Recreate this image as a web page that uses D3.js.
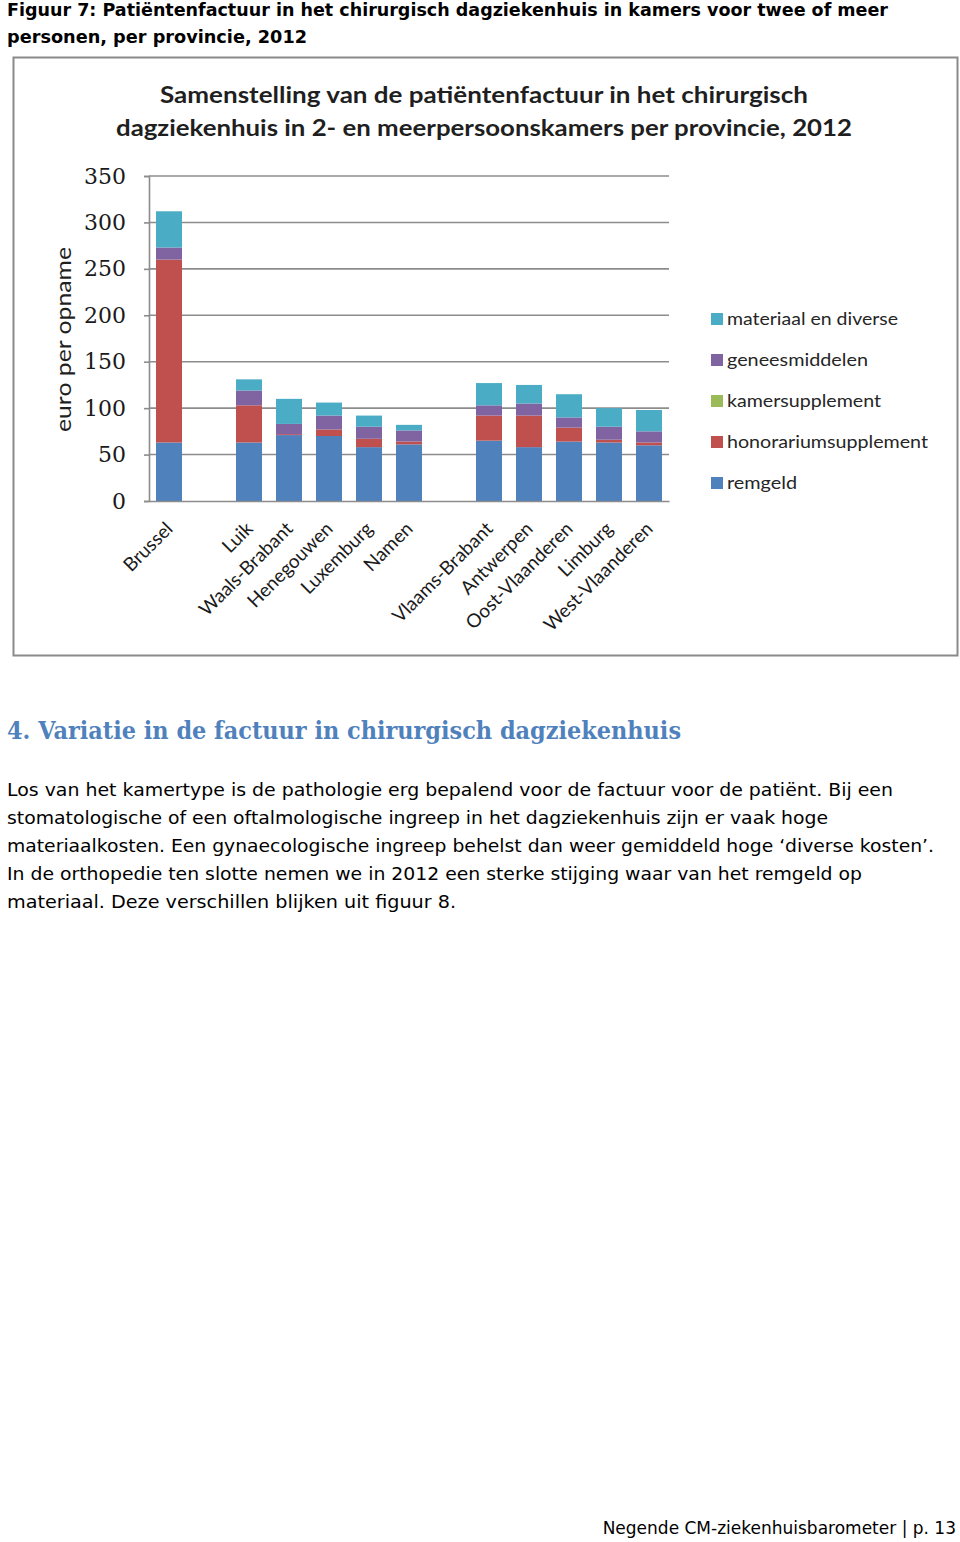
<!DOCTYPE html>
<html>
<head>
<meta charset="utf-8">
<script src="https://cdn.jsdelivr.net/npm/d3@7"></script>
<style>
html,body{margin:0;padding:0;background:#fff;}
svg{display:block;}
</style>
</head>
<body>
<script>
// ---- data ----
const categories = ["Brussel","","Luik","Waals-Brabant","Henegouwen","Luxemburg","Namen","","Vlaams-Brabant","Antwerpen","Oost-Vlaanderen","Limburg","West-Vlaanderen"];
const remgeld     = [63,0,63,71,70,58,61,0,65,58,64,63,60];
const honorarium  = [197,0,40,1,7,9,3,0,27,34,15,3,3];
const kamersupp   = [0,0,0,0,0,0,0,0,0,0,0,0,0];
const geneesmid   = [13,0,16,11,15,13,12,0,11,13,11,14,12];
const materiaal   = [39,0,12,27,14,12,6,0,24,20,25,20,23];
const seriesKeys  = ["remgeld","honorariumsupplement","kamersupplement","geneesmiddelen","materiaal en diverse"];
const seriesVals  = [remgeld, honorarium, kamersupp, geneesmid, materiaal];
const seriesColors= ["#4F81BD","#C0504D","#9BBB59","#8064A2","#4BACC6"];
const yTicks      = [0,50,100,150,200,250,300,350];
const legendOrder = ["materiaal en diverse","geneesmiddelen","kamersupplement","honorariumsupplement","remgeld"];

const captionLines = ["Figuur 7: Patiëntenfactuur in het chirurgisch dagziekenhuis in kamers voor twee of meer","personen, per provincie, 2012"];
const chartTitle = ["Samenstelling van de patiëntenfactuur in het chirurgisch","dagziekenhuis in 2- en meerpersoonskamers per provincie, 2012"];
const yLabel = "euro per opname";
const heading = "4.  Variatie in de factuur in chirurgisch dagziekenhuis";
const paragraph = [
 "Los van het kamertype is de pathologie erg bepalend voor de factuur voor de patiënt. Bij een",
 "stomatologische of een oftalmologische ingreep in het dagziekenhuis zijn er vaak hoge",
 "materiaalkosten. Een gynaecologische ingreep behelst dan weer gemiddeld hoge ‘diverse kosten’.",
 "In de orthopedie ten slotte nemen we in 2012 een sterke stijging waar van het remgeld op",
 "materiaal. Deze verschillen blijken uit figuur 8."
];
const footer = "Negende CM-ziekenhuisbarometer | p. 13";

// ---- drawing ----
const W = 960, H = 1542;
const svg = d3.select("body").append("svg").attr("width", W).attr("height", H);

function fitText(sel, width){
  sel.each(function(){
    const w = this.getComputedTextLength();
    if (w > 0) d3.select(this).attr("textLength", width).attr("lengthAdjust","spacingAndGlyphs");
  });
}

// caption
const capW = [881, 300];
captionLines.forEach((t,i)=>{
  svg.append("text").attr("x",7).attr("y",16+i*27)
    .attr("font-family","DejaVu Sans").attr("font-weight","bold").attr("font-size",18)
    .attr("fill","#000").text(t).call(fitText, capW[i]);
});

// chart frame
svg.append("rect").attr("x",13.5).attr("y",57.5).attr("width",944).attr("height",598)
  .attr("fill","#fff").attr("stroke","#8a8a8a").attr("stroke-width",2);

// chart title
const titleW = [648, 736];
chartTitle.forEach((t,i)=>{
  svg.append("text").attr("x",484).attr("y",103+i*33).attr("text-anchor","middle")
    .attr("font-family","Lato").attr("font-weight","bold").attr("font-size",23)
    .attr("fill","#1f1f1f").text(t).call(fitText, titleW[i]);
});

const plot = {left:149, right:669, top:176, bottom:501};
const x = d3.scaleBand().domain(d3.range(categories.length)).range([plot.left, plot.right])
  .paddingInner(0.35).paddingOuter(0.175);
const y = d3.scaleLinear().domain([0,350]).range([plot.bottom, plot.top]);

// gridlines
svg.append("g").selectAll("line").data(yTicks.filter(d=>d>0)).join("line")
  .attr("x1",plot.left).attr("x2",plot.right)
  .attr("y1",d=>y(d)).attr("y2",d=>y(d))
  .attr("stroke","#8c8c8c").attr("stroke-width",1.6);

// y axis
const yAxis = d3.axisLeft(y).tickValues(yTicks).tickSize(5).tickPadding(18).tickFormat(d3.format("d"));
const ya = svg.append("g").attr("transform",`translate(${plot.left},0)`).call(yAxis);
ya.select(".domain").attr("stroke","#8c8c8c").attr("stroke-width",1.6);
ya.selectAll(".tick line").attr("stroke","#8c8c8c").attr("stroke-width",1.6);
ya.selectAll(".tick text").attr("font-family","DejaVu Serif").attr("font-size",22).attr("fill","#1a1a1a");

// stacked bars
const rows = categories.map((c,i)=>{
  const r = {idx:i};
  seriesKeys.forEach((k,j)=> r[k] = seriesVals[j][i]);
  return r;
});
const stack = d3.stack().keys(seriesKeys)(rows);
stack.forEach((layer,j)=>{
  svg.append("g").attr("fill",seriesColors[j])
    .selectAll("rect").data(layer.filter(d=>categories[d.data.idx]!=="" && d[1]-d[0]>0)).join("rect")
    .attr("x",d=>x(d.data.idx)).attr("width",x.bandwidth())
    .attr("y",d=>y(d[1])).attr("height",d=>y(d[0])-y(d[1]));
});

// x axis
const xAxis = d3.axisBottom(x).tickSize(0).tickFormat(i=>categories[i]);
const xa = svg.append("g").attr("transform",`translate(0,${plot.bottom})`).call(xAxis);
xa.select(".domain").attr("stroke","#8c8c8c").attr("stroke-width",1.6);
xa.selectAll(".tick text")
  .attr("font-family","Lato").attr("font-size",19).attr("fill","#1a1a1a")
  .attr("text-anchor","end").attr("dy",0).attr("y",0)
  .attr("transform","translate(5,29) rotate(-45)");

// y label
svg.append("text").attr("transform",`translate(71,${(plot.top+plot.bottom)/2+1}) rotate(-90)`)
  .attr("text-anchor","middle").attr("font-family","Lato").attr("font-size",21)
  .attr("fill","#1f1f1f").text(yLabel).call(fitText,185);

// legend
const legendW = {"materiaal en diverse":171,"geneesmiddelen":141,"kamersupplement":154,"honorariumsupplement":201,"remgeld":70};
const lg = svg.append("g");
legendOrder.forEach((k,i)=>{
  const j = seriesKeys.indexOf(k);
  const cy = 319 + i*41;
  lg.append("rect").attr("x",711).attr("y",cy-6).attr("width",12).attr("height",12).attr("fill",seriesColors[j]);
  lg.append("text").attr("x",727).attr("y",cy+6).attr("font-family","Lato").attr("font-size",18)
    .attr("fill","#262626").text(k).call(fitText, legendW[k]);
});

// heading
svg.append("text").attr("x",7).attr("y",739).attr("font-family","DejaVu Serif").attr("font-weight","bold")
  .attr("font-size",25).attr("fill","#4F81BD").text(heading).call(fitText,674);

// paragraph
const parW = [886, 821, 927, 855, 449];
paragraph.forEach((t,i)=>{
  svg.append("text").attr("x",7).attr("y",796+i*28).attr("font-family","DejaVu Sans").attr("font-size",18.5)
    .attr("fill","#000").text(t).call(fitText,parW[i]);
});

// footer
svg.append("text").attr("x",956).attr("y",1534).attr("text-anchor","end").attr("font-family","DejaVu Sans")
  .attr("font-size",17).attr("fill","#000").text(footer);
</script>
</body>
</html>
